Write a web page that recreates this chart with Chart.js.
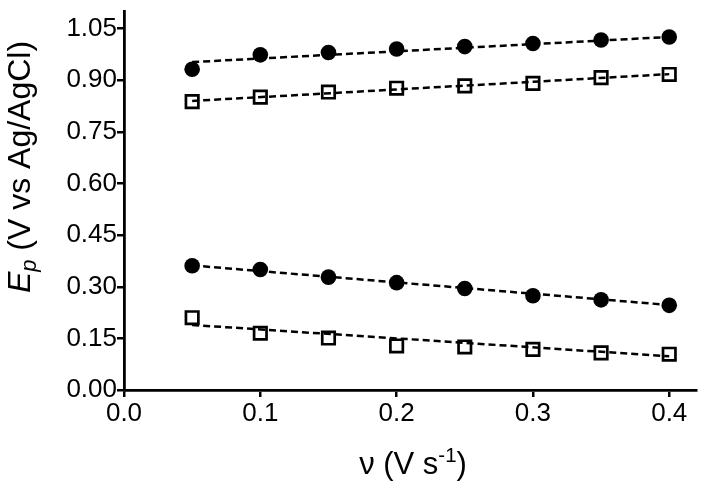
<!DOCTYPE html>
<html>
<head>
<meta charset="utf-8">
<script src="https://cdn.jsdelivr.net/npm/chart.js@4.4.1/dist/chart.umd.min.js"></script>
<style>
html,body{margin:0;padding:0;background:#fff;}
#wrap{width:708px;height:492px;position:relative;}
</style>
</head>
<body>
<div id="wrap"><canvas id="c" width="708" height="492"></canvas></div>
<script>
// ---- data ----
const scanRates = [0.05, 0.10, 0.15, 0.20, 0.25, 0.30, 0.35, 0.40];
const anodicFilled = [0.932, 0.974, 0.981, 0.991, 0.998, 1.007, 1.017, 1.026];
const anodicOpen = [0.838, 0.851, 0.866, 0.877, 0.884, 0.891, 0.908, 0.917];
const cathodicFilled = [0.361, 0.350, 0.328, 0.312, 0.295, 0.274, 0.262, 0.246];
const cathodicOpen = [0.210, 0.165, 0.151, 0.128, 0.125, 0.118, 0.108, 0.104];

const fitRates = [0.05, 0.40];
const fitAnodicFilled = [0.953, 1.026];
const fitAnodicOpen = [0.840, 0.918];
const fitCathodicFilled = [0.362, 0.247];
const fitCathodicOpen = [0.189, 0.098];

const xTickValues = [0.0, 0.1, 0.2, 0.3, 0.4];
const xTickLabels = ['0.0', '0.1', '0.2', '0.3', '0.4'];
const yTickValues = [0.00, 0.15, 0.30, 0.45, 0.60, 0.75, 0.90, 1.05];
const yTickLabels = ['0.00', '0.15', '0.30', '0.45', '0.60', '0.75', '0.90', '1.05'];

const FONT = "'Liberation Sans', Arial, sans-serif";

function pts(xs, ys) { return xs.map((x, i) => ({ x: x, y: ys[i] })); }

function markerSet(ys, filled) {
  return {
    type: 'scatter',
    data: pts(scanRates, ys),
    showLine: false,
    pointStyle: filled ? 'circle' : 'rect',
    pointRadius: filled ? 7.8 : 8.8,
    pointBackgroundColor: filled ? '#000' : '#fff',
    pointBorderColor: '#000',
    pointBorderWidth: filled ? 0 : 2.7,
    order: 2
  };
}
function fitSet(ys) {
  return {
    type: 'line',
    data: pts(fitRates, ys),
    borderColor: '#000',
    borderWidth: 2.5,
    borderDash: [7, 4],
    pointRadius: 0,
    fill: false,
    order: 1
  };
}

function drawRich(ctx, parts, size) {
  let total = 0;
  parts.forEach(p => {
    const s = size * (p.scale || 1);
    ctx.font = (p.italic ? 'italic ' : '') + s + 'px ' + FONT;
    p._w = ctx.measureText(p.t).width;
    p._s = s;
    total += p._w;
  });
  let x = -total / 2;
  parts.forEach(p => {
    ctx.font = (p.italic ? 'italic ' : '') + p._s + 'px ' + FONT;
    ctx.fillText(p.t, x, p.dy || 0);
    x += p._w;
  });
}

const titlesPlugin = {
  id: 'titles',
  afterDraw(chart) {
    const ctx = chart.ctx;
    ctx.save();
    ctx.fillStyle = '#000';
    ctx.textBaseline = 'alphabetic';
    ctx.textAlign = 'left';
    // x-axis title
    ctx.save();
    ctx.translate(413, 474);
    drawRich(ctx, [
      { t: '\u03bd (V s' },
      { t: '-1', scale: 0.66, dy: -12 },
      { t: ')' }
    ], 31);
    ctx.restore();
    // y-axis title
    ctx.save();
    ctx.translate(30, 167);
    ctx.rotate(-Math.PI / 2);
    drawRich(ctx, [
      { t: 'E', italic: true },
      { t: 'p', italic: true, scale: 0.68, dy: 6 },
      { t: ' (V vs Ag/AgCl)' }
    ], 32);
    ctx.restore();
    ctx.restore();
  }
};

new Chart(document.getElementById('c'), {
  type: 'scatter',
  data: {
    datasets: [
      fitSet(fitAnodicFilled), fitSet(fitAnodicOpen),
      fitSet(fitCathodicFilled), fitSet(fitCathodicOpen),
      markerSet(anodicFilled, true), markerSet(anodicOpen, false),
      markerSet(cathodicFilled, true), markerSet(cathodicOpen, false)
    ]
  },
  options: {
    responsive: false,
    animation: false,
    layout: { padding: { top: 2, right: 5, left: 0, bottom: 0 } },
    plugins: { legend: { display: false }, tooltip: { enabled: false } },
    scales: {
      x: {
        type: 'linear', min: 0, max: 0.42,
        afterBuildTicks: s => { s.ticks = xTickValues.map(v => ({ value: v })); },
        afterFit: s => { s.height = 102; s.paddingLeft = 0; s.paddingRight = 0; },
        ticks: {
          color: '#000', font: { family: FONT, size: 26 }, padding: 1,
          maxRotation: 0, autoSkip: false,
          callback: (v) => { const i = xTickValues.findIndex(t => Math.abs(t - v) < 1e-9); return i >= 0 ? xTickLabels[i] : ''; }
        },
        grid: { drawOnChartArea: false, drawTicks: true, tickLength: 7, color: '#000', lineWidth: 2.5 },
        border: { display: true, color: '#000', width: 2.8 }
      },
      y: {
        type: 'linear', min: 0, max: 1.1,
        afterBuildTicks: s => { s.ticks = yTickValues.map(v => ({ value: v })); },
        afterFit: s => { s.width = 124; s.paddingTop = 0; s.paddingBottom = 0; },
        ticks: {
          color: '#000', font: { family: FONT, size: 26 }, padding: 0,
          autoSkip: false,
          callback: (v) => { const i = yTickValues.findIndex(t => Math.abs(t - v) < 1e-9); return i >= 0 ? yTickLabels[i] : ''; }
        },
        grid: { drawOnChartArea: false, drawTicks: true, tickLength: 7, color: '#000', lineWidth: 2.5 },
        border: { display: true, color: '#000', width: 2.8 }
      }
    }
  },
  plugins: [titlesPlugin]
});
</script>
</body>
</html>
